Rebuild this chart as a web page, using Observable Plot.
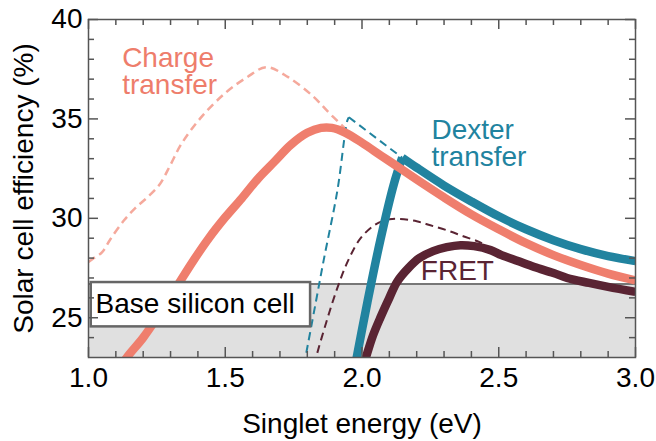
<!DOCTYPE html>
<html>
<head>
<meta charset="utf-8">
<script src="https://cdn.jsdelivr.net/npm/d3@7"></script>
<script src="https://cdn.jsdelivr.net/npm/@observablehq/plot@0.6"></script>
<style>
  html, body { margin: 0; padding: 0; background: white; }
</style>
</head>
<body>
<div id="chart"></div>
<script>
// ---- data ----
const xDomain = [1.0, 3.0];
const yDomain = [23, 40];
const xTicks = [1.0, 1.5, 2.0, 2.5, 3.0];
const xMinorTicks = [1.1, 1.2, 1.3, 1.4, 1.6, 1.7, 1.8, 1.9, 2.1, 2.2, 2.3, 2.4, 2.6, 2.7, 2.8, 2.9];
const yTicks = [25, 30, 35, 40];
const yMinorTicks = [24, 26, 27, 28, 29, 31, 32, 33, 34, 36, 37, 38, 39];
const siliconBase = 26.7;

const chargeTransferIdeal = [
  [1.00, 27.8], [1.02, 28.0], [1.05, 28.3], [1.08, 28.95], [1.13, 29.9], [1.17, 30.5],
  [1.215, 31.05], [1.26, 31.7], [1.30, 32.7], [1.34, 33.75], [1.41, 35.05], [1.50, 36.3],
  [1.58, 37.1], [1.65, 37.6], [1.73, 37.1], [1.82, 36.15], [1.88, 35.3], [1.94, 34.5], [1.99, 33.85]
];
const chargeTransfer = [
  [1.10, 22.2], [1.14, 23.0], [1.20, 24.0], [1.26, 25.2], [1.32, 26.5], [1.38, 27.8],
  [1.44, 29.0], [1.50, 30.05], [1.56, 31.0], [1.62, 32.0], [1.68, 32.85], [1.74, 33.7],
  [1.80, 34.3], [1.85, 34.55], [1.89, 34.55], [1.94, 34.3], [2.00, 33.8], [2.07, 33.15],
  [2.13, 32.6], [2.20, 31.95], [2.30, 31.05], [2.40, 30.2], [2.50, 29.45], [2.60, 28.75],
  [2.70, 28.15], [2.80, 27.65], [2.90, 27.22], [3.00, 26.88]
];
const dexterIdealRise = [
  [1.787, 22.6], [1.793, 23.0], [1.83, 25.7], [1.86, 27.9], [1.91, 31.4], [1.946, 34.9], [1.952, 35.08]
];
const dexterIdealFall = [[1.952, 35.08], [2.147, 33.05]];
const dexterRise = [
  [1.975, 22.6], [2.02, 25.8], [2.067, 28.9], [2.116, 31.7], [2.147, 33.05]
];
const dexterFall = [
  [2.147, 33.05], [2.20, 32.55], [2.30, 31.65], [2.40, 30.85], [2.50, 30.1], [2.60, 29.45],
  [2.70, 28.9], [2.80, 28.45], [2.90, 28.1], [3.00, 27.85]
];
const fretIdeal = [
  [1.825, 22.6], [1.83, 22.9], [1.87, 24.8], [1.91, 26.5], [1.95, 27.9], [1.995, 29.0],
  [2.05, 29.7], [2.10, 29.95], [2.14, 29.97], [2.20, 29.85], [2.25, 29.65], [2.31, 29.4],
  [2.37, 29.1], [2.43, 28.8], [2.48, 28.4]
];
const fret = [
  [2.005, 22.6], [2.012, 22.9], [2.04, 24.1], [2.067, 25.0], [2.10, 26.0], [2.128, 26.8],
  [2.17, 27.5], [2.21, 28.0], [2.26, 28.35], [2.31, 28.55], [2.36, 28.65], [2.41, 28.6],
  [2.47, 28.4], [2.51, 28.15], [2.57, 27.85], [2.63, 27.55], [2.70, 27.25], [2.75, 27.0],
  [2.83, 26.75], [2.90, 26.55], [3.00, 26.3]
];

// annotation placement (data units)
const seriesLabels = [
  {text: "Charge\ntransfer", x: 1.123, y: 36.26, color: "#ee7d6b"},
  {text: "Dexter\ntransfer", x: 2.254, y: 32.65, color: "#21839f"},
  {text: "FRET", x: 2.215, y: 26.89, color: "#5a2433"}
];
const baseBox = {x1: 1.01, x2: 1.812, y1: 24.54, y2: 26.77, text: "Base silicon cell", tx: 1.026, ty: 25.26};

const CT = "#ef7e6d", CT_LIGHT = "#f5a99c", DX = "#21839f", FR = "#5a2433", AX = "#555";
const frameW = 656 - 88 - 21, frameH = 441 - 19 - 84;

const px = d => d[0], py = d => d[1];
const dashed = (data, stroke, width, curve) =>
  Plot.line(data, {x: px, y: py, stroke, strokeWidth: width, strokeDasharray: "8,5", strokeLinecap: "butt", curve, clip: true});
const solid = (data, stroke, curve) =>
  Plot.line(data, {x: px, y: py, stroke, strokeWidth: 8.5, strokeLinecap: "butt", curve, clip: true});

const chart = Plot.plot({
  width: 656,
  height: 441,
  marginLeft: 88,
  marginRight: 21,
  marginTop: 19,
  marginBottom: 84,
  style: {fontFamily: "'Liberation Sans', Arial, sans-serif", fontSize: "28px", background: "white", color: "black"},
  x: {domain: xDomain},
  y: {domain: yDomain},
  marks: [
    Plot.rect([siliconBase], {x1: xDomain[0], x2: xDomain[1], y1: yDomain[0], y2: d => d, fill: "#e0e0e0"}),
    Plot.ruleY([siliconBase], {stroke: "#777", strokeWidth: 2}),

    dashed(chargeTransferIdeal, CT_LIGHT, 2.5, "catmull-rom"),
    dashed(dexterIdealRise, DX, 2, "catmull-rom"),
    dashed(dexterIdealFall, DX, 2, "linear"),
    dashed(fretIdeal, FR, 2, "catmull-rom"),

    solid(dexterRise, DX, "catmull-rom"),
    solid(dexterFall, DX, "catmull-rom"),
    solid(chargeTransfer, CT, "catmull-rom"),
    solid(fret, FR, "catmull-rom"),

    Plot.rect([baseBox], {x1: "x1", x2: "x2", y1: "y1", y2: "y2", fill: "white", stroke: "#666", strokeWidth: 2.5}),
    Plot.text([baseBox], {x: "tx", y: "ty", text: "text", textAnchor: "start", lineAnchor: "bottom", fill: "black"}),

    Plot.text(seriesLabels, {x: "x", y: "y", text: "text", fill: "color", textAnchor: "start", lineAnchor: "bottom", lineHeight: 0.953}),

    Plot.frame({stroke: AX, strokeWidth: 1.5}),
    Plot.ruleX(xTicks, {insetTop: frameH - 10, stroke: AX, strokeWidth: 1.5}),
    Plot.ruleX(xTicks, {insetBottom: frameH - 10, stroke: AX, strokeWidth: 1.5}),
    Plot.ruleX(xMinorTicks, {insetTop: frameH - 6, stroke: AX, strokeWidth: 1.5}),
    Plot.ruleX(xMinorTicks, {insetBottom: frameH - 6, stroke: AX, strokeWidth: 1.5}),
    Plot.ruleY(yTicks, {insetRight: frameW - 10, stroke: AX, strokeWidth: 1.5}),
    Plot.ruleY(yTicks, {insetLeft: frameW - 10, stroke: AX, strokeWidth: 1.5}),
    Plot.ruleY(yMinorTicks, {insetRight: frameW - 6, stroke: AX, strokeWidth: 1.5}),
    Plot.ruleY(yMinorTicks, {insetLeft: frameW - 6, stroke: AX, strokeWidth: 1.5}),

    Plot.axisX({ticks: xTicks, tickSize: 0, tickPadding: 10, tickFormat: d => d.toFixed(1), label: null}),
    Plot.axisY({ticks: yTicks, tickSize: 0, tickPadding: 6, label: null}),

    Plot.text(["Singlet energy (eV)"], {frameAnchor: "bottom", dy: 75, textAnchor: "middle", lineAnchor: "bottom", fill: "black"}),
    Plot.text(["Solar cell efficiency (%)"], {frameAnchor: "left", dx: -64, rotate: -90, textAnchor: "middle", lineAnchor: "middle", fill: "black"})
  ]
});
document.getElementById("chart").appendChild(chart);
</script>
</body>
</html>
